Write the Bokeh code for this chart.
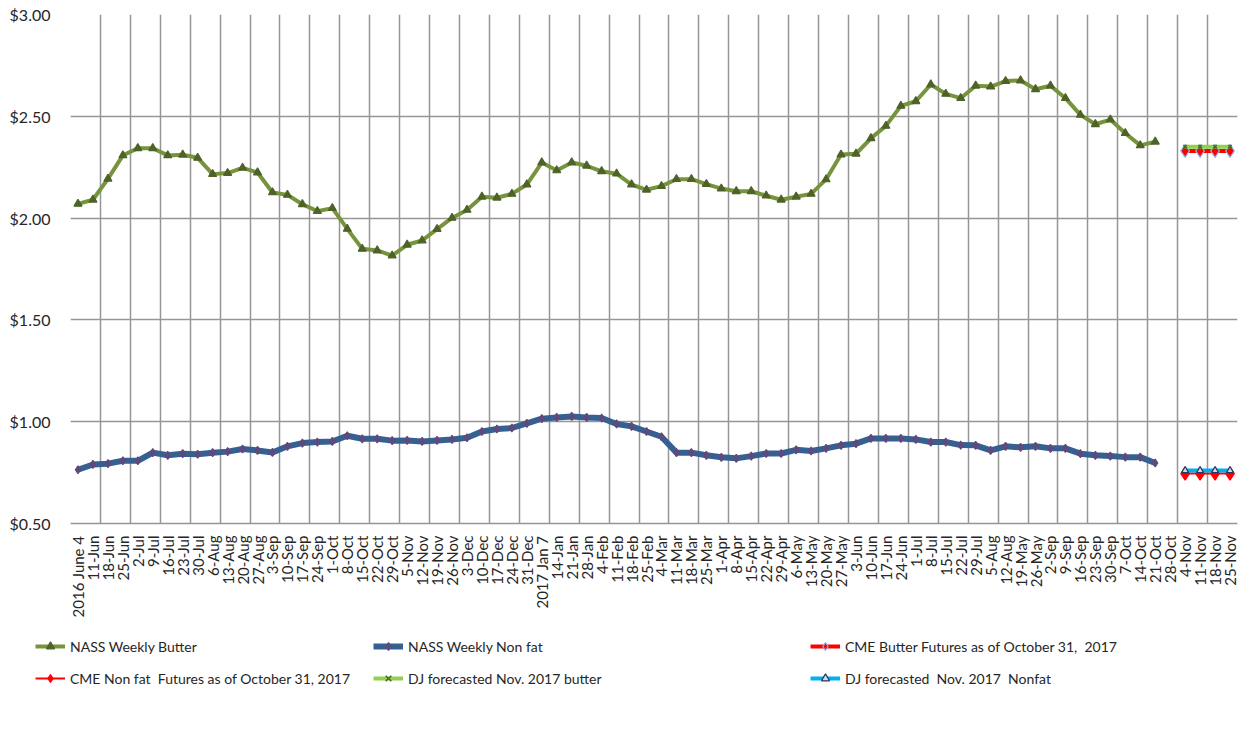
import numpy as np
from bokeh.plotting import figure
from bokeh.layouts import column
from bokeh.models import Range1d, FixedTicker, NumeralTickFormatter, Legend, LegendItem
from bokeh.embed import file_html
from bokeh.resources import INLINE

weeks = ["2016 June 4", "11-Jun", "18-Jun", "25-Jun", "2-Jul", "9-Jul", "16-Jul", "23-Jul", "30-Jul",
         "6-Aug", "13-Aug", "20-Aug", "27-Aug", "3-Sep", "10-Sep", "17-Sep", "24-Sep", "1-Oct", "8-Oct",
         "15-Oct", "22-Oct", "29-Oct", "5-Nov", "12-Nov", "19-Nov", "26-Nov", "3-Dec", "10-Dec", "17-Dec",
         "24-Dec", "31-Dec", "2017 Jan 7", "14-Jan", "21-Jan", "28-Jan", "4-Feb", "11-Feb", "18-Feb",
         "25-Feb", "4-Mar", "11-Mar", "18-Mar", "25-Mar", "1-Apr", "8-Apr", "15-Apr", "22-Apr", "29-Apr",
         "6-May", "13-May", "20-May", "27-May", "3-Jun", "10-Jun", "17-Jun", "24-Jun", "1-Jul", "8-Jul",
         "15-Jul", "22-Jul", "29-Jul", "5-Aug", "12-Aug", "19-May", "26-May", "2-Sep", "9-Sep", "16-Sep",
         "23-Sep", "30-Sep", "7-Oct", "14-Oct", "21-Oct", "28-Oct", "4-Nov ", "11-Nov ", "18-Nov ", "25-Nov "]

nass_butter = [2.070, 2.090, 2.193, 2.308, 2.343, 2.343, 2.308, 2.311, 2.296, 2.216, 2.221, 2.247, 2.224,
               2.126, 2.114, 2.068, 2.034, 2.049, 1.947, 1.849, 1.841, 1.816, 1.869, 1.890, 1.946, 2.001,
               2.040, 2.105, 2.100, 2.119, 2.165, 2.273, 2.234, 2.273, 2.257, 2.230, 2.218, 2.165, 2.139,
               2.157, 2.191, 2.191, 2.167, 2.145, 2.132, 2.132, 2.110, 2.090, 2.105, 2.119, 2.190, 2.312,
               2.316, 2.392, 2.453, 2.551, 2.574, 2.656, 2.610, 2.589, 2.650, 2.646, 2.673, 2.676, 2.633,
               2.650, 2.589, 2.507, 2.461, 2.484, 2.417, 2.357, 2.375]

nass_nonfat = [0.764, 0.790, 0.794, 0.808, 0.808, 0.848, 0.835, 0.843, 0.840, 0.848, 0.853, 0.866, 0.859,
               0.849, 0.879, 0.895, 0.900, 0.903, 0.931, 0.916, 0.916, 0.907, 0.908, 0.903, 0.908, 0.913,
               0.921, 0.952, 0.964, 0.969, 0.992, 1.015, 1.021, 1.026, 1.021, 1.018, 0.989, 0.977, 0.952,
               0.926, 0.848, 0.848, 0.835, 0.825, 0.820, 0.831, 0.844, 0.844, 0.862, 0.856, 0.869, 0.884,
               0.892, 0.918, 0.918, 0.918, 0.913, 0.900, 0.900, 0.885, 0.884, 0.859, 0.879, 0.874, 0.879,
               0.869, 0.869, 0.843, 0.835, 0.831, 0.826, 0.826, 0.797]

forecast_weeks = ["4-Nov ", "11-Nov ", "18-Nov ", "25-Nov "]
cme_butter = [2.33, 2.33, 2.33, 2.33]
cme_nonfat = [0.745, 0.745, 0.745, 0.745]
dj_butter = [2.35, 2.35, 2.35, 2.35]
dj_nonfat = [0.76, 0.76, 0.76, 0.76]

y_ticks = [0.5, 1.0, 1.5, 2.0, 2.5, 3.0]

legend_labels = ["NASS Weekly Butter", "NASS Weekly Non fat", "CME Butter Futures as of October 31,  2017",
                 "CME Non fat  Futures as of October 31, 2017", "DJ forecasted Nov. 2017 butter",
                 "DJ forecasted  Nov. 2017  Nonfat"]

FONT = "Lato"
TEXT = "#262626"
GRID = "#969696"
W = 1239

# series styles: (line color, line width, marker, marker size, fill, outline)
styles = [
    ("#77933C", 4, "triangle", 8, "#4F6228", "#4F6228"),
    ("#376092", 6, "diamond", 8, "#604A7B", "#604A7B"),
    ("#FF0000", 4, "diamond", 13, "#FF0000", "#8DB4E2"),
    ("#FF0000", 2, "diamond", 13, "#FF0000", "#FF0000"),
    ("#92D050", 4, "x", 5, "#4F6228", "#4F6228"),
    ("#00B0F0", 4, "triangle", 7, "#D9D9D9", "#1F3864"),
]

pos = {w: i + 0.5 for i, w in enumerate(weeks)}
x_hist = [pos[w] for w in weeks[:len(nass_butter)]]
x_fc = [pos[w] for w in forecast_weeks]

p = figure(width=W, height=625, output_backend="svg", toolbar_location=None,
           x_range=Range1d(0, len(weeks)), y_range=Range1d(0.5, 3.0),
           min_border_left=70, min_border_right=2, min_border_top=14, min_border_bottom=102)
p.outline_line_color = None
p.background_fill_color = "white"

p.xgrid.ticker = FixedTicker(ticks=list(range(0, len(weeks) + 1, 2)))
p.xgrid.grid_line_color = GRID
p.xgrid.grid_line_width = 1.5
p.ygrid.ticker = FixedTicker(ticks=y_ticks)
p.ygrid.grid_line_color = GRID
p.ygrid.grid_line_width = 1.5

p.xaxis.ticker = FixedTicker(ticks=[pos[w] for w in weeks])
p.xaxis.major_label_overrides = {pos[w]: w.strip() for w in weeks}
p.xaxis.major_label_orientation = np.pi / 2
p.xaxis.major_label_text_font = FONT
p.xaxis.major_label_text_font_size = "15px"
p.xaxis.major_label_text_color = TEXT
p.xaxis.major_label_standoff = 6
p.xaxis.major_tick_line_color = None
p.xaxis.minor_tick_line_color = None
p.xaxis.axis_line_color = GRID
p.xaxis.axis_line_width = 1.5

p.yaxis.ticker = FixedTicker(ticks=y_ticks)
p.yaxis.formatter = NumeralTickFormatter(format="$0.00")
p.yaxis.major_label_text_font = FONT
p.yaxis.major_label_text_font_size = "16px"
p.yaxis.major_label_text_color = TEXT
p.yaxis.major_label_standoff = 14
p.yaxis.major_tick_line_color = None
p.yaxis.minor_tick_line_color = None
p.yaxis.axis_line_color = None


def draw(fig, xs, ys, st):
    lc, lw, mk, ms, fc, oc = st
    ln = fig.line(xs, ys, line_color=lc, line_width=lw)
    if mk == "x":
        sc = fig.scatter(xs, ys, marker=mk, size=ms, line_color=oc, line_width=1.5)
    else:
        sc = fig.scatter(xs, ys, marker=mk, size=ms, fill_color=fc, line_color=oc, line_width=1.2)
    return [ln, sc]


series = [(x_hist, nass_butter), (x_hist, nass_nonfat), (x_fc, cme_butter),
          (x_fc, cme_nonfat), (x_fc, dj_butter), (x_fc, dj_nonfat)]
for (xs, ys), st in zip(series, styles):
    draw(p, xs, ys, st)

# legend strip beneath: same series, outside its visible ranges, only the legend shows
lf = figure(width=W, height=100, output_backend="svg", toolbar_location=None,
            x_range=Range1d(-2, -1), y_range=Range1d(-2, -1),
            x_axis_location=None, y_axis_location=None,
            min_border=0, min_border_left=0, min_border_right=0, min_border_top=0, min_border_bottom=0)
lf.frame_align = False
lf.outline_line_color = None
lf.xgrid.visible = False
lf.ygrid.visible = False

leg_renderers = [draw(lf, xs, ys, st) for (xs, ys), st in zip(series, styles)]

col_x = [35, 373, 810]
order = [[0, 3], [1, 4], [2, 5]]
for cx, idxs in zip(col_x, order):
    items = [LegendItem(label=legend_labels[i], renderers=leg_renderers[i]) for i in idxs]
    lg = Legend(items=items, location=(cx, 37), orientation="vertical",
                background_fill_alpha=0, border_line_color=None, padding=0, margin=0,
                spacing=12, glyph_width=30, glyph_height=20, label_height=20, label_standoff=5,
                label_text_font=FONT, label_text_font_size="14px", label_text_color=TEXT)
    lf.add_layout(lg)

layout = column(p, lf, spacing=0)
open("out.html", "w").write(file_html(layout, INLINE))
